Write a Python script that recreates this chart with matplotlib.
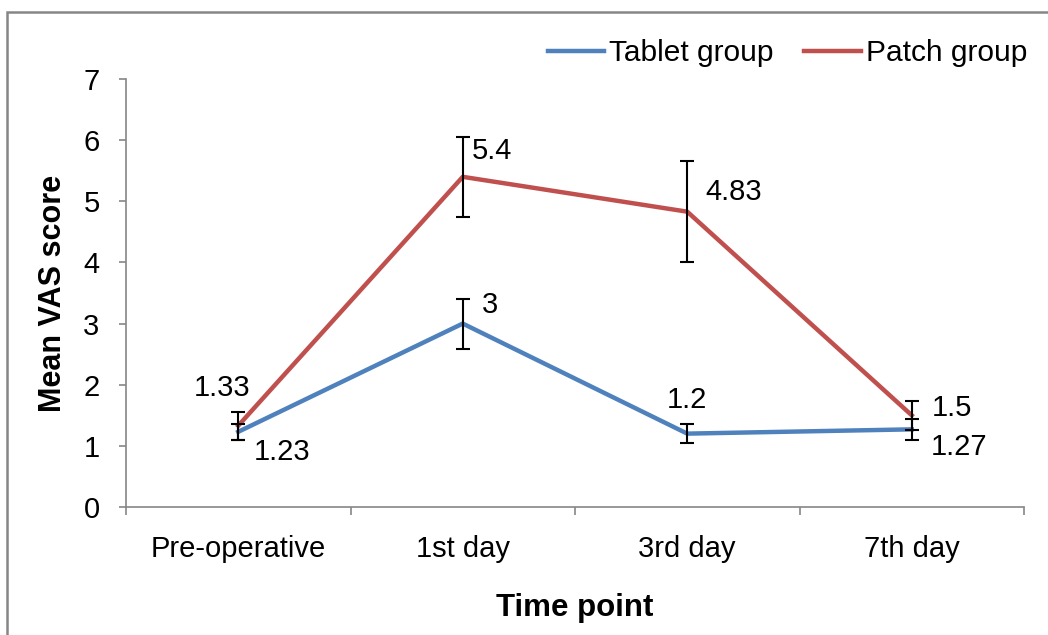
import matplotlib
matplotlib.use("Agg")
import matplotlib.pyplot as plt
from matplotlib.patches import Rectangle

# Data
time_points = ["Pre-operative", "1st day", "3rd day", "7th day"]
tablet_mean = [1.23, 3.0, 1.2, 1.27]
tablet_err = [0.13, 0.41, 0.15, 0.17]
patch_mean = [1.33, 5.4, 4.83, 1.5]
patch_err = [0.23, 0.65, 0.83, 0.24]
tablet_labels = ["1.23", "3", "1.2", "1.27"]
patch_labels = ["1.33", "5.4", "4.83", "1.5"]

plt.rcParams["font.family"] = ["Liberation Sans", "DejaVu Sans"]

W, H = 1048, 635
fig = plt.figure(figsize=(W / 100, H / 100), dpi=100)

# outer chart frame
fig.patches.append(Rectangle((7 / W, -0.05), 1.2, 1 - 12 / H + 0.05,
                             transform=fig.transFigure, fill=False,
                             edgecolor="#868686", linewidth=1.8))

ax = fig.add_axes([126 / W, 1 - 507 / H, (1024 - 126) / W, (507 - 79) / H])

x = list(range(len(time_points)))
blue = "#4F81BD"
red = "#C0504D"

ax.plot(x, tablet_mean, color=blue, lw=3.2, label="Tablet group", zorder=3)
ax.plot(x, patch_mean, color=red, lw=3.2, label="Patch group", zorder=3)
ax.errorbar(x, tablet_mean, yerr=tablet_err, fmt="none", ecolor="black",
            elinewidth=1.5, capsize=5, capthick=1.5, zorder=4)
ax.errorbar(x, patch_mean, yerr=patch_err, fmt="none", ecolor="black",
            elinewidth=1.5, capsize=5, capthick=1.5, zorder=4)

# value labels (offsets in pixels converted to points)
px = 0.72
fs_val = 21
tablet_offsets = [(44, -20), (27, 19), (0, 34), (47, -18)]
patch_offsets = [(-16, 38), (29, 26), (46, 20), (40, 7)]
for xi, yi, lab, (dx, dy) in zip(x, tablet_mean, tablet_labels, tablet_offsets):
    ax.annotate(lab, (xi, yi), xytext=(dx * px, dy * px), textcoords="offset points",
                ha="center", va="center", fontsize=fs_val, zorder=5)
for xi, yi, lab, (dx, dy) in zip(x, patch_mean, patch_labels, patch_offsets):
    ax.annotate(lab, (xi, yi), xytext=(dx * px, dy * px), textcoords="offset points",
                ha="center", va="center", fontsize=fs_val, zorder=5)

ax.set_xlim(-0.5, 3.5)
ax.set_ylim(0, 7)
ax.set_yticks(range(0, 8))
ax.set_xticks(x)
ax.set_xticklabels(time_points, fontsize=21)
ax.tick_params(axis="y", labelsize=21, length=5, color="#868686", width=1.2, pad=14)
ax.tick_params(axis="x", which="major", length=0, pad=20)
ax.set_xticks([-0.5, 0.5, 1.5, 2.5, 3.5], minor=True)
ax.tick_params(axis="x", which="minor", length=6, color="#868686", width=1.2, direction="out")

for s in ["top", "right"]:
    ax.spines[s].set_visible(False)
for s in ["left", "bottom"]:
    ax.spines[s].set_color("#868686")
    ax.spines[s].set_linewidth(1.2)

ax.set_ylabel("Mean VAS score", fontsize=22, fontweight="bold", labelpad=11)
ax.set_xlabel("Time point", fontsize=22.5, fontweight="bold", labelpad=22)

leg = ax.legend(loc="center right", bbox_to_anchor=(1027 / W, 1 - 53 / H),
                bbox_transform=fig.transFigure, ncol=2, frameon=False,
                fontsize=21.5, handlelength=1.9, handletextpad=0.17,
                columnspacing=1.0, borderpad=0, borderaxespad=0)

fig.savefig("out.png", dpi=100)
